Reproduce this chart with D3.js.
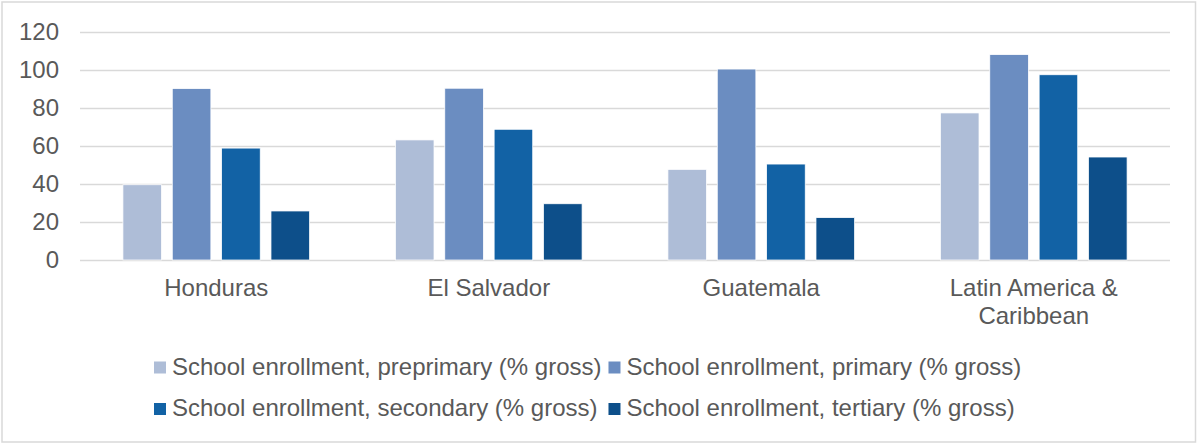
<!DOCTYPE html>
<html>
<head>
<meta charset="utf-8">
<script src="https://cdn.jsdelivr.net/npm/d3@7"></script>
<style>
    body { margin: 0; background: #fff; }
    text { font-family: "Liberation Sans", Arial, sans-serif; fill: #595959; }
</style>
</head>
<body>
<div id="chart"></div>
<script>
// data
var categories = ["Honduras", "El Salvador", "Guatemala", "Latin America & Caribbean"];
var seriesNames = [
    "School enrollment, preprimary (% gross)",
    "School enrollment, primary (% gross)",
    "School enrollment, secondary (% gross)",
    "School enrollment, tertiary (% gross)"
];
var preprimary = [39.6, 63.2, 47.7, 77.4];
var primary = [90.2, 90.4, 100.5, 108.1];
var secondary = [58.9, 68.8, 50.5, 97.5];
var tertiary = [25.8, 29.6, 22.3, 54.2];
var yTicks = [0, 20, 40, 60, 80, 100, 120];

var seriesValues = [preprimary, primary, secondary, tertiary];
var colors = ["#aebdd7", "#6b8dc1", "#1262a5", "#0d4f8a"];

var width = 1198, height = 443;
var plot = { left: 80, right: 1170, top: 32, bottom: 260 };

var svg = d3.select("#chart")
    .append("svg")
    .attr("width", width)
    .attr("height", height);

// chart border
svg.append("rect")
    .attr("x", 2).attr("y", 2)
    .attr("width", width - 4.5).attr("height", height - 3)
    .attr("fill", "#fff")
    .attr("stroke", "#d9d9d9")
    .attr("stroke-width", 1.5);

var x0 = d3.scaleBand()
    .domain(categories)
    .range([plot.left, plot.right])
    .paddingInner(0.315)
    .paddingOuter(0.1575);

var x1 = d3.scaleBand()
    .domain(d3.range(seriesNames.length))
    .range([0, x0.bandwidth()])
    .paddingInner(0.218)
    .paddingOuter(0);

var y = d3.scaleLinear()
    .domain([0, 120])
    .range([plot.bottom, plot.top]);

// gridlines + y labels
var yAxis = d3.axisLeft(y)
    .tickValues(yTicks)
    .tickSize(-(plot.right - plot.left))
    .tickPadding(21);

var gy = svg.append("g")
    .attr("transform", "translate(" + plot.left + ",0)")
    .call(yAxis);
gy.select(".domain").remove();
gy.selectAll(".tick line")
    .attr("stroke", "#d9d9d9")
    .attr("stroke-width", 1.5);
gy.selectAll(".tick text")
    .attr("font-size", 24)
    .attr("fill", "#595959")
    .style("font-family", "'Liberation Sans', Arial, sans-serif");

// bars
var rows = categories.map(function (c, i) {
    return seriesValues.map(function (vals, s) {
        return { cat: c, s: s, v: vals[i] };
    });
});

svg.append("g")
    .selectAll("g")
    .data(rows)
    .enter().append("g")
    .attr("transform", function (d, i) { return "translate(" + x0(categories[i]) + ",0)"; })
    .selectAll("rect")
    .data(function (d) { return d; })
    .enter().append("rect")
    .attr("x", function (d) { return x1(d.s); })
    .attr("y", function (d) { return y(d.v); })
    .attr("width", x1.bandwidth())
    .attr("height", function (d) { return y(0) - y(d.v); })
    .attr("fill", function (d) { return colors[d.s]; })
    .attr("stroke", "#fff")
    .attr("stroke-width", 0.75);

// category labels with wrapping
var xAxis = d3.axisBottom(x0).tickSize(0).tickPadding(0);
var gx = svg.append("g")
    .attr("transform", "translate(0," + plot.bottom + ")")
    .call(xAxis);
gx.select(".domain").remove();
gx.selectAll(".tick text")
    .attr("font-size", 24)
    .attr("fill", "#595959")
    .style("font-family", "'Liberation Sans', Arial, sans-serif")
    .attr("y", 36)
    .attr("dy", 0)
    .each(function (d) { wrap(d3.select(this), x0.step(), 28); });

function wrap(text, maxWidth, lineHeight) {
    var words = text.text().split(/\s+/);
    var yy = text.attr("y");
    text.text(null);
    var line = [];
    var n = 0;
    var tspan = text.append("tspan").attr("x", 0).attr("y", yy);
    words.forEach(function (w) {
        line.push(w);
        tspan.text(line.join(" "));
        if (tspan.node().getComputedTextLength() > maxWidth && line.length > 1) {
            line.pop();
            tspan.text(line.join(" "));
            line = [w];
            n++;
            tspan = text.append("tspan").attr("x", 0).attr("y", +yy + n * lineHeight).text(w);
        }
    });
}

// legend, two columns
var legendLeft = 154;
var rowY = [367.5, 409];
var legend = svg.append("g");

var probe = legend.append("text").attr("font-size", 24);
var col1Width = d3.max([seriesNames[0], seriesNames[2]], function (t) {
    probe.text(t);
    return probe.node().getComputedTextLength();
});
probe.remove();
var colX = [legendLeft, legendLeft + 12 + 6 + col1Width + 7];

seriesNames.forEach(function (name, i) {
    var cx = colX[i % 2];
    var cy = rowY[Math.floor(i / 2)];
    legend.append("rect")
        .attr("x", cx)
        .attr("y", cy - 6)
        .attr("width", 12)
        .attr("height", 12)
        .attr("fill", colors[i]);
    legend.append("text")
        .attr("x", cx + 18)
        .attr("y", cy + 7)
        .attr("font-size", 24)
        .text(name);
});
</script>
</body>
</html>
